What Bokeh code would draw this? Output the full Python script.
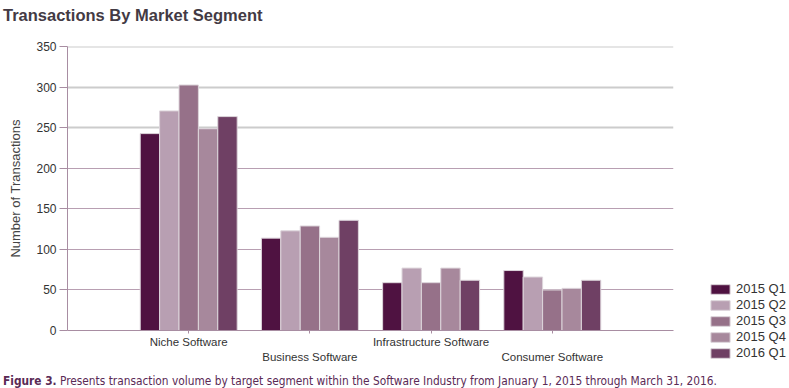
import numpy as np
from bokeh.plotting import figure
from bokeh.models import (ColumnDataSource, Range1d, FixedTicker, LinearAxis, Grid,
                          Legend, LegendItem, Div)
from bokeh.transform import dodge
from bokeh.layouts import column
from bokeh.embed import file_html
from bokeh.resources import INLINE

# ---- data ----
categories = ["Niche Software", "Business Software", "Infrastructure Software", "Consumer Software"]
series_names = ["2015 Q1", "2015 Q2", "2015 Q3", "2015 Q4", "2016 Q1"]
q1_2015 = [243, 114, 59, 74]
q2_2015 = [271, 123, 77, 66]
q3_2015 = [303, 129, 59, 50]
q4_2015 = [249, 115, 77, 52]
q1_2016 = [264, 136, 62, 62]
y_ticks = [0, 50, 100, 150, 200, 250, 300, 350]

series_values = [q1_2015, q2_2015, q3_2015, q4_2015, q1_2016]
colors = ["#4f1241", "#b89fb2", "#967189", "#a7889c", "#6f4064"]
axis_col = "#a88da2"
FONT = "Liberation Sans"

x_idx = list(range(len(categories)))
data = {"x": x_idx}
for name, vals in zip(series_names, series_values):
    data[name] = vals
source = ColumnDataSource(data)

title_div = Div(text='<div style="font-family:\'Liberation Sans\',Arial,sans-serif;font-size:16.5px;'
                     'font-weight:bold;color:#433a44;padding-left:3px;padding-top:5px;'
                     'line-height:20px;white-space:nowrap;">Transactions By Market Segment</div>',
                width=789, height=30, margin=(0, 0, 0, 0))

p = figure(frame_width=606, frame_height=284, output_backend="svg", toolbar_location=None,
           x_range=Range1d(-1, len(categories)), y_range=Range1d(0, 350.5),
           min_border_left=67, min_border_right=116, min_border_top=16, min_border_bottom=43)
p.outline_line_color = None
p.background_fill_color = "white"
p.border_fill_color = "white"

# grids
p.xgrid.visible = False
p.ygrid.visible = False
p.add_layout(Grid(dimension=1, ticker=FixedTicker(ticks=y_ticks[1:5]),
                  grid_line_color="#b89fb2", grid_line_width=1))
p.add_layout(Grid(dimension=1, ticker=FixedTicker(ticks=y_ticks[5:]),
                  grid_line_color="#cccccc", grid_line_width=2))

# bars
width = 0.16
offsets = [-0.32, -0.16, 0.0, 0.16, 0.32]
items = []
for name, col, off in zip(series_names, colors, offsets):
    r = p.vbar(x=dodge("x", off, range=p.x_range), top=name, width=width, source=source,
               fill_color=col, line_color="#ddd5db", line_width=1)
    items.append(LegendItem(label=name, renderers=[r]))

# y axis
ya = p.yaxis[0]
ya.ticker = FixedTicker(ticks=y_ticks)
ya.axis_label = "Number of Transactions"
ya.axis_label_text_font = FONT
ya.axis_label_text_font_size = "13px"
ya.axis_label_text_font_style = "normal"
ya.axis_label_text_color = "#444444"
ya.axis_label_standoff = 10
ya.major_label_text_font = FONT
ya.major_label_text_font_size = "12px"
ya.major_label_text_color = "#333333"
ya.major_label_standoff = 3
ya.axis_line_color = axis_col
ya.major_tick_line_color = axis_col
ya.major_tick_out = 8
ya.major_tick_in = 0
ya.minor_tick_line_color = None

# x axis (first row of labels)
xa = p.xaxis[0]
xa.ticker = FixedTicker(ticks=x_idx)
xa.major_label_overrides = {i: (categories[i] if i % 2 == 0 else " ") for i in x_idx}
xa.major_label_text_font = FONT
xa.major_label_text_font_size = "11.5px"
xa.major_label_text_color = "#333333"
xa.major_label_standoff = 2
xa.axis_line_color = axis_col
xa.major_tick_line_color = axis_col
xa.major_tick_out = 3
xa.major_tick_in = 0
xa.minor_tick_line_color = None

# second row of staggered labels
xa2 = LinearAxis(ticker=FixedTicker(ticks=x_idx[1::2]),
                 major_label_overrides={i: categories[i] for i in x_idx[1::2]})
xa2.major_label_text_font = FONT
xa2.major_label_text_font_size = "11.5px"
xa2.major_label_text_color = "#333333"
xa2.major_label_standoff = 0
xa2.axis_line_color = None
xa2.major_tick_line_color = None
xa2.minor_tick_line_color = None
xa2.major_tick_out = 0
xa2.major_tick_in = 0
p.add_layout(xa2, "below")

legend = Legend(items=items, location=(35, -30), padding=0, margin=0,
                border_line_color=None, background_fill_alpha=0,
                glyph_width=24, glyph_height=12, label_height=12, spacing=1,
                label_standoff=4, label_text_font=FONT, label_text_font_size="13px",
                label_text_color="#333333")
p.add_layout(legend, "right")

caption = Div(text='<span style="font-family:\'DejaVu Sans Condensed\', \'DejaVu Sans\';'
                   'font-size:11.8px;color:#5a2a55;white-space:nowrap;padding-left:3px;">'
                   '<b>Figure 3.</b> Presents transaction volume by target segment within the '
                   'Software Industry from January 1, 2015 through March 31, 2016.</span>',
              width=789, height=15, margin=(0, 0, 0, 0))

layout = column(title_div, p, caption, spacing=0)
open("out.html", "w").write(file_html(layout, INLINE))
